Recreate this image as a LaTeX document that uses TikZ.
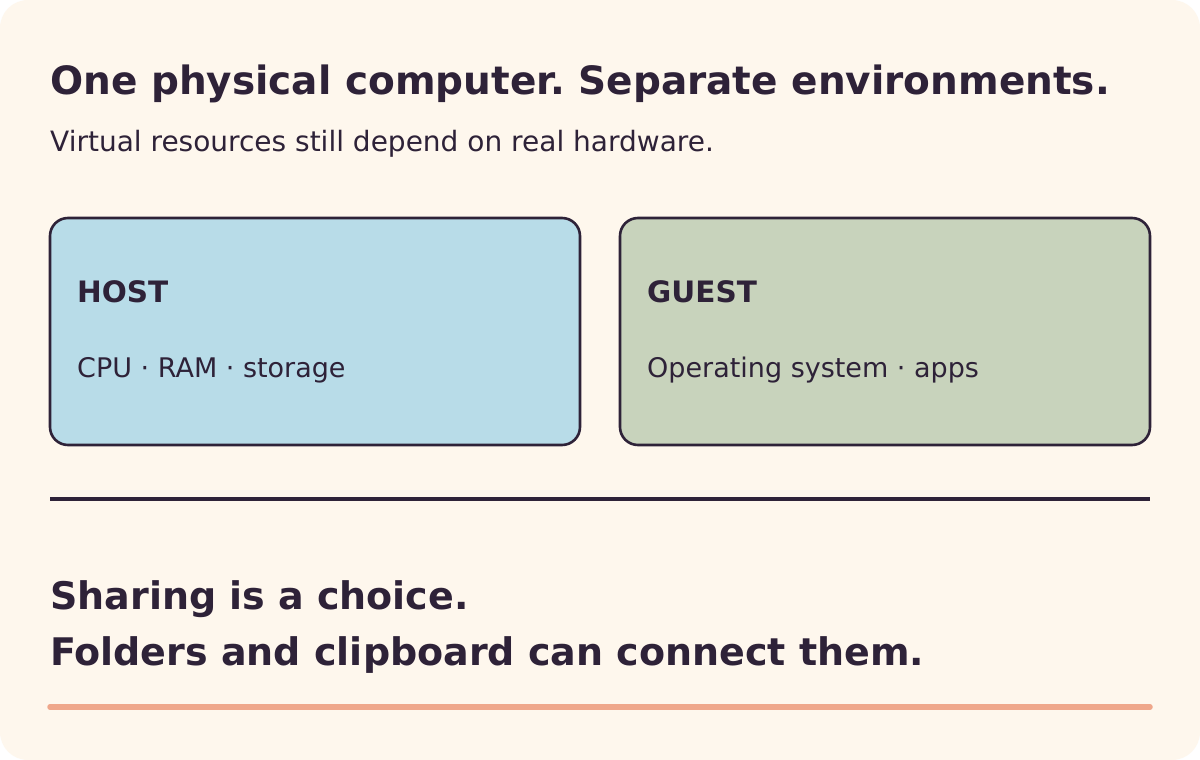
\documentclass[tikz,border=0pt]{standalone}
\usepackage{fontspec}
\setmainfont{DejaVu Sans}
\frenchspacing
\definecolor{bg}{HTML}{FEF7ED}
\definecolor{ink}{HTML}{2E2238}
\definecolor{hostc}{HTML}{B8DCE8}
\definecolor{guestc}{HTML}{C8D3BC}
\definecolor{accent}{HTML}{EFA78B}
\begin{document}
\begin{tikzpicture}[x=1pt,y=-1pt,
  txt/.style={anchor=base west,inner sep=0,text=ink},
  big/.style={txt,font=\fontsize{38}{46}\selectfont\bfseries},
  ttl/.style={txt,font=\fontsize{39}{46}\selectfont\bfseries},
  sub/.style={txt,font=\fontsize{28}{34}\selectfont},
  lbl/.style={txt,font=\fontsize{29.5}{35}\selectfont\bfseries},
  det/.style={txt,font=\fontsize{27}{32}\selectfont},
  card/.style={draw=ink,line width=2.6pt,rounded corners=18pt}]
\useasboundingbox (0,0) rectangle (1200,760);
\fill[white] (0,0) rectangle (1200,760);
\fill[bg,rounded corners=28pt] (0,0) rectangle (1200,760);
\node[ttl] (title) at (50,95) {One physical computer. Separate environments.};
\node[sub] (subtitle) at (50,151) {Virtual resources still depend on real hardware.};
\draw[card,fill=hostc] (50,218) rectangle (580,445);
\draw[card,fill=guestc] (620,218) rectangle (1150,445);
\node[lbl] (host) at (77,302) {HOST};
\node[det] (hostd) at (77,377) {CPU · RAM · storage};
\node[lbl] (guest) at (647,302) {GUEST};
\node[det] (guestd) at (647,377) {Operating system · apps};
\coordinate (d1) at (50,499);
\coordinate (d2) at (1150,499);
\draw[ink,line width=3.5pt] (d1) -- (d2);
\node[big] (share1) at (50,609) {Sharing is a choice.};
\node[big] (share2) at (50,665) {Folders and clipboard can connect them.};
\coordinate (a1) at (50,707);
\coordinate (a2) at (1150,707);
\draw[accent,line width=5.5pt,line cap=round] (a1) -- (a2);
\end{tikzpicture}
\end{document}
